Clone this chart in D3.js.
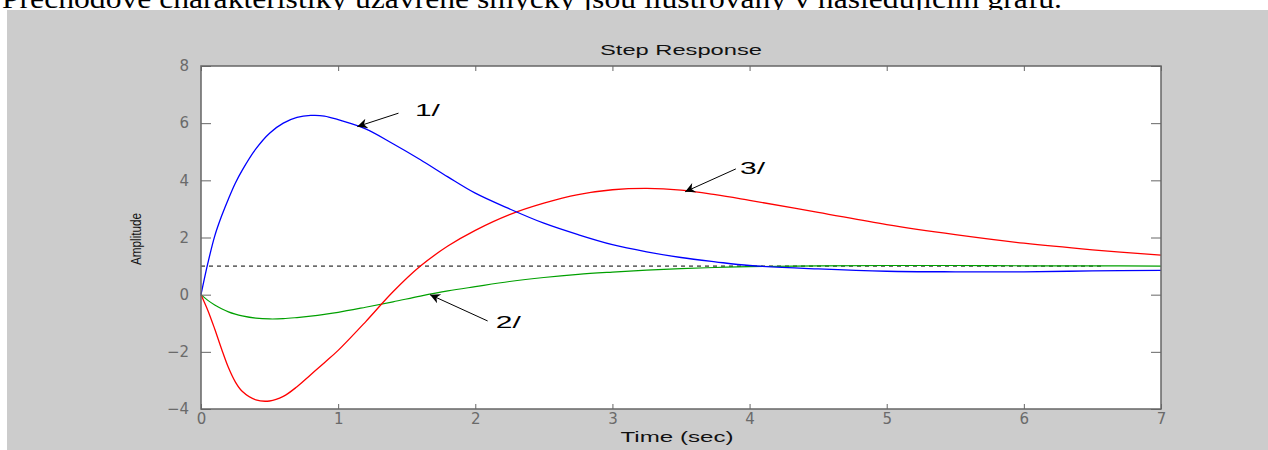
<!DOCTYPE html>
<html lang="cs">
<head>
<meta charset="utf-8">
<title>Step Response</title>
<script src="https://d3js.org/d3.v7.min.js"></script>
<style>
  body { margin: 0; background: #fff; }
  svg { display: block; }
</style>
</head>
<body>
<script>
// data
var time  = [0,0.05,0.1,0.15,0.2,0.25,0.3,0.4,0.5,0.6,0.7,0.8,0.9,1.0,1.2,1.4,1.6,1.8,2.0,2.25,2.5,2.75,3.0,3.25,3.5,3.75,4.0,4.5,5.0,5.5,6.0,6.5,7.0];
var resp1 = [0,1.1,2.05,2.75,3.35,3.9,4.35,5.1,5.65,6.0,6.2,6.27,6.25,6.12,5.8,5.28,4.72,4.12,3.55,3.0,2.5,2.1,1.75,1.5,1.3,1.15,1.02,0.9,0.82,0.8,0.8,0.83,0.85];
var resp2 = [0,-0.2,-0.36,-0.49,-0.6,-0.68,-0.74,-0.82,-0.85,-0.84,-0.8,-0.75,-0.69,-0.62,-0.44,-0.25,-0.05,0.13,0.28,0.46,0.6,0.71,0.79,0.86,0.91,0.95,0.98,1.01,1.02,1.02,1.01,1.01,1.0];
var resp3 = [0,-0.55,-1.2,-1.9,-2.55,-3.05,-3.38,-3.68,-3.72,-3.56,-3.22,-2.8,-2.38,-1.95,-0.95,0.1,1.0,1.7,2.25,2.8,3.2,3.5,3.67,3.72,3.66,3.5,3.3,2.88,2.45,2.1,1.8,1.57,1.38];
var xTicks = [0,1,2,3,4,5,6,7];
var yTicks = [-4,-2,0,2,4,6,8];
var refLevel = 1, refEnd = 6.58;

// annotations (data units): label, arrow tip, arrow tail, text anchor
var annoLabel = ["1/", "2/", "3/"];
var annoTip   = [[1.14, 5.88], [1.67, 0.0], [3.53, 3.6]];
var annoTail  = [[1.44, 6.35], [2.09, -0.92], [3.9, 4.4]];
var annoText  = [[1.56, 6.24], [2.15, -1.17], [3.93, 4.22]];

var W = 1268, H = 450;
var svg = d3.select("body").append("svg").attr("width", W).attr("height", H);

// heading text of the document, cut at the top
svg.append("text")
  .attr("x", 2).attr("y", 8)
  .attr("font-family", "Liberation Serif, Times New Roman, serif")
  .attr("font-size", 27)
  .attr("textLength", 1060).attr("lengthAdjust", "spacingAndGlyphs")
  .text("Přechodové charakteristiky uzavřené smyčky jsou ilustrovány v následujícím grafu.");

// figure background
svg.append("rect").attr("x", 7).attr("y", 10).attr("width", W - 7).attr("height", H - 10)
  .attr("fill", "#cccccc");

var L = 201, R = 1161, T = 66, B = 409;
var x = d3.scaleLinear().domain([0, 7]).range([L, R]);
var y = d3.scaleLinear().domain([-4, 8]).range([B, T]);

svg.append("rect").attr("x", L).attr("y", T).attr("width", R - L).attr("height", B - T)
  .attr("fill", "#fff");

var g = svg.append("g");

// reference line
g.append("line")
  .attr("x1", x(0)).attr("x2", x(refEnd))
  .attr("y1", y(refLevel)).attr("y2", y(refLevel))
  .attr("stroke", "#000").attr("stroke-width", 1).attr("stroke-dasharray", "4,4");

var line = d3.line().curve(d3.curveCatmullRom.alpha(0.5));
function pts(v) { return time.map(function(t, i) { return [x(t), y(v[i])]; }); }

g.append("path").attr("d", line(pts(resp2))).attr("fill", "none").attr("stroke", "#00a000").attr("stroke-width", 1.2);
g.append("path").attr("d", line(pts(resp3))).attr("fill", "none").attr("stroke", "#ff0000").attr("stroke-width", 1.3);
g.append("path").attr("d", line(pts(resp1))).attr("fill", "none").attr("stroke", "#0000ff").attr("stroke-width", 1.3);

// arrows
svg.append("defs").append("marker")
  .attr("id", "ah").attr("viewBox", "0 0 10 10").attr("refX", 10).attr("refY", 5)
  .attr("markerWidth", 14).attr("markerHeight", 10).attr("markerUnits", "userSpaceOnUse")
  .attr("orient", "auto")
  .append("path").attr("d", "M0,0 L10,5 L0,10 L3,5 Z").attr("fill", "#000");

var sans = "Liberation Sans, Arial, sans-serif";

annoLabel.forEach(function(lab, i) {
  g.append("line")
    .attr("x1", x(annoTail[i][0])).attr("y1", y(annoTail[i][1]))
    .attr("x2", x(annoTip[i][0])).attr("y2", y(annoTip[i][1]))
    .attr("stroke", "#000").attr("stroke-width", 1)
    .attr("marker-end", "url(#ah)");
  g.append("text")
    .attr("x", x(annoText[i][0])).attr("y", y(annoText[i][1]))
    .attr("font-family", sans)
    .attr("font-size", 16).attr("fill", "#000")
    .attr("textLength", 25).attr("lengthAdjust", "spacingAndGlyphs")
    .text(lab);
});

// axes box and ticks
var axisCol = "#666";
svg.append("rect").attr("x", L).attr("y", T).attr("width", R - L).attr("height", B - T)
  .attr("fill", "none").attr("stroke", axisCol).attr("stroke-width", 1.5);

function styleAxis(sel) {
  sel.select(".domain").remove();
  sel.selectAll(".tick line").attr("stroke", axisCol);
  sel.selectAll(".tick text").attr("fill", "#6a6a6a")
    .attr("font-family", "DejaVu Sans, sans-serif").attr("font-size", 15);
}

svg.append("g").attr("transform", "translate(0," + B + ")")
  .call(d3.axisBottom(x).tickValues(xTicks).tickFormat(d3.format("d")).tickSizeInner(-5).tickPadding(4))
  .call(styleAxis);
svg.append("g").attr("transform", "translate(0," + T + ")")
  .call(d3.axisTop(x).tickValues(xTicks).tickFormat("").tickSizeInner(-5))
  .call(styleAxis);
svg.append("g").attr("transform", "translate(" + L + ",0)")
  .call(d3.axisLeft(y).tickValues(yTicks).tickFormat(d3.format("d")).tickSizeInner(-10).tickPadding(12))
  .call(styleAxis);
svg.append("g").attr("transform", "translate(" + R + ",0)")
  .call(d3.axisRight(y).tickValues(yTicks).tickFormat("").tickSizeInner(-10))
  .call(styleAxis);

// titles
svg.append("text").attr("x", (L + R) / 2).attr("y", 55).attr("text-anchor", "middle")
  .attr("font-family", sans).attr("font-size", 14).attr("fill", "#111")
  .attr("textLength", 162).attr("lengthAdjust", "spacingAndGlyphs")
  .text("Step Response");
svg.append("text").attr("x", 677).attr("y", 442).attr("text-anchor", "middle")
  .attr("font-family", sans).attr("font-size", 15).attr("fill", "#111")
  .attr("textLength", 113).attr("lengthAdjust", "spacingAndGlyphs")
  .text("Time (sec)");
svg.append("text").attr("transform", "translate(141," + 239 + ") rotate(-90)")
  .attr("text-anchor", "middle")
  .attr("font-family", "Liberation Sans Narrow, Liberation Sans, Arial, sans-serif").attr("font-size", 15).attr("fill", "#111")
  .attr("textLength", 52).attr("lengthAdjust", "spacingAndGlyphs")
  .text("Amplitude");
</script>
</body>
</html>
